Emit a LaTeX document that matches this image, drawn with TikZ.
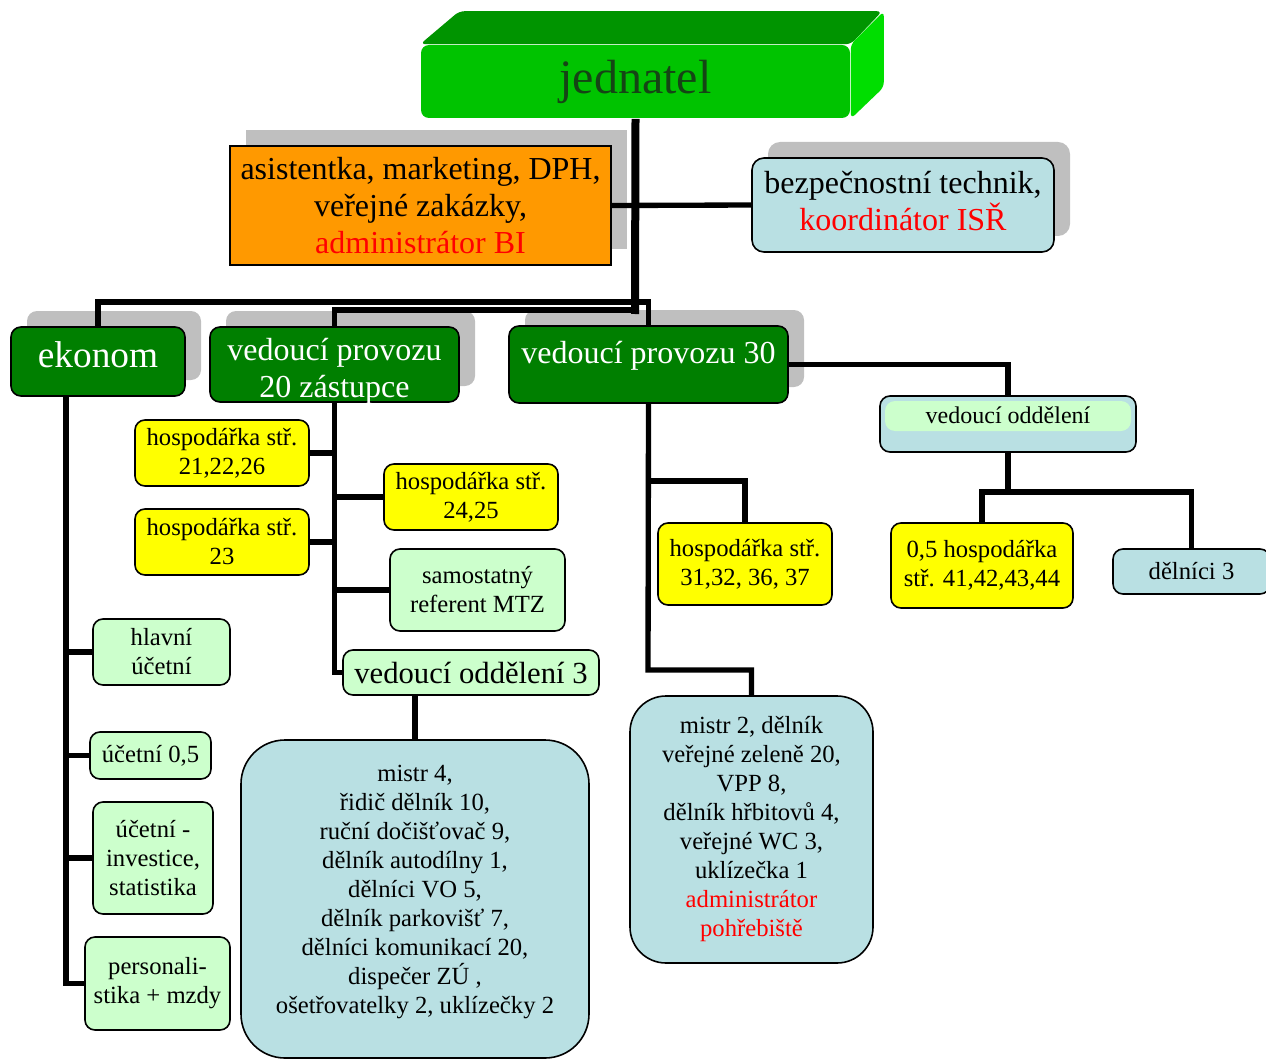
\documentclass[tikz,border=0pt]{standalone}
\usepackage{fontspec}
\setmainfont{Liberation Serif}
\usepackage{xcolor}
\usetikzlibrary{shadows}
\usetikzlibrary{backgrounds}
\definecolor{lblue}{HTML}{B9E0E3}
\definecolor{lgreen}{HTML}{CCFFCC}
\definecolor{dgreen}{HTML}{007F00}
\definecolor{orng}{HTML}{FF9900}
\definecolor{yel}{HTML}{FFFF00}
\definecolor{jedfront}{HTML}{00C300}
\definecolor{jedtop}{HTML}{009400}
\definecolor{jedside}{HTML}{00DE00}
\definecolor{jedtext}{HTML}{154515}
\tikzset{box/.style = {draw, line width=1.2pt, align=center, inner sep=2pt, rounded corners=7.5pt, font=\fontsize{18.5}{21.75}\selectfont}}
\tikzset{yellowbox/.style = {box, fill=yel}}
\tikzset{greenbox/.style = {box, fill=lgreen}}
\tikzset{bluebox/.style = {box, fill=lblue}}
\tikzset{grayshadow/.style = {drop shadow={shadow xshift=12pt, shadow yshift=12pt, fill=black, opacity=.25}}}
\tikzset{chiefbox/.style = {box, fill=dgreen, text=white, grayshadow, font=\fontsize{24}{27.75}\selectfont}}
\tikzset{link/.style = {line width=4pt}}
\tikzset{trunk/.style = {line width=6pt}}

\begin{document}
\begin{tikzpicture}[x=0.75pt,y=-0.75pt]
                    \useasboundingbox (0,0) rectangle (1266,1059);

                    % top of the tree
                    \node[box, fill=jedfront, draw=none, rounded corners=6pt, text=jedtext, font=\fontsize{36}{40}\selectfont,
                          minimum width=321.75pt, minimum height=54.75pt] (jed) at (635.5,81.5) {jednatel};
                    \fill[jedtop, rounded corners=4pt] (jed.north west) -- ++(39,-33) -- ++(423,0) -- (jed.north east) -- cycle;
                    \fill[jedside, rounded corners=4pt] (jed.north east) -- ++(33,-33) -- ++(0,76) -- (jed.south east) -- cycle;

                    \node[box, fill=orng, rounded corners=0pt, grayshadow, font=\fontsize{24}{27.75}\selectfont,
                          minimum width=285.75pt, minimum height=89.25pt] (asist) at (420.5,205.5)
                          {asistentka, marketing, DPH,\\ veřejné zakázky,\\ \textcolor{red}{administrátor BI}};
                    \node[bluebox, rounded corners=9pt, grayshadow, font=\fontsize{24}{27.75}\selectfont,
                          minimum width=226.5pt, minimum height=70.5pt] (bezp) at (903,205)
                          {bezpečnostní technik,\\ \textcolor{red}{koordinátor ISŘ}\rule[-6pt]{0pt}{6pt}};

                    % second level
                    \node[chiefbox, font=\fontsize{28}{32}\selectfont, minimum width=130.5pt, minimum height=51.75pt, text depth=10pt] (ekon) at (98,361.5) {ekonom};
                    \node[chiefbox, minimum width=186.75pt, minimum height=56.25pt, text height=50pt, text depth=0pt] (vp20) at (334.5,364.5) {vedoucí provozu\\ 20 zástupce};
                    \node[chiefbox, minimum width=209.25pt, minimum height=57.75pt, text height=16pt, text depth=18pt] (vp30) at (648.5,364.5) {vedoucí provozu 30};

                    % under vedoucí provozu 30
                    \node[bluebox, font=\fontsize{18}{21}\selectfont, minimum width=192pt, minimum height=42pt, text height=12pt, text depth=13pt,
                          path picture={\fill[lgreen] ([xshift=3.75pt,yshift=-3.75pt]path picture bounding box.north west)
                          rectangle ([xshift=-3.75pt,yshift=-5.25pt]path picture bounding box.east);}] (vodd) at (1008,424) {vedoucí oddělení};
                    \node[yellowbox, minimum width=136.5pt, minimum height=63.75pt] (h41) at (982,565.5) {0,5 hospodářka\\ stř. 41,42,43,44};
                    \node[bluebox, minimum width=117.75pt, minimum height=33.75pt] (del3) at (1191.5,571.5) {dělníci 3};
                    \node[yellowbox, minimum width=130.5pt, minimum height=61.5pt] (h31) at (745,564) {hospodářka stř.\\ 31,32, 36, 37};
                    \node[bluebox, rounded corners=27pt, minimum width=182.25pt, minimum height=200.25pt] (m2) at (751.5,829.5)
                          {mistr 2, dělník\\ veřejné zeleně 20,\\ VPP 8,\\ dělník hřbitovů 4,\\ veřejné WC 3,\\ uklízečka 1\\
                           \textcolor{red}{administrátor}\\ \textcolor{red}{pohřebiště}};

                    % under vedoucí provozu 20
                    \node[yellowbox, minimum width=130.5pt, minimum height=49.5pt] (h21) at (222,453) {hospodářka stř.\\ 21,22,26};
                    \node[yellowbox, minimum width=130.5pt, minimum height=49.5pt] (h24) at (471,497) {hospodářka stř.\\ 24,25};
                    \node[yellowbox, minimum width=130.5pt, minimum height=49.5pt] (h23) at (222,542) {hospodářka stř.\\ 23};
                    \node[greenbox, minimum width=131.25pt, minimum height=61.5pt] (samo) at (477.5,590) {samostatný\\ referent MTZ};
                    \node[greenbox, font=\fontsize{23}{26}\selectfont, minimum width=192pt, minimum height=33.75pt] (vo3) at (471,672.5) {vedoucí oddělení 3};
                    \node[bluebox, rounded corners=33pt, minimum width=261pt, minimum height=238.5pt] (m4) at (415,899)
                          {mistr 4,\\ řidič dělník 10,\\ ruční dočišťovač 9,\\ dělník autodílny 1,\\ dělníci VO 5,\\ dělník parkovišť 7,\\
                           dělníci komunikací 20,\\ dispečer ZÚ ,\\ ošetřovatelky 2, uklízečky 2\rule[-15pt]{0pt}{15pt}};

                    % under ekonom
                    \node[greenbox, minimum width=102.75pt, minimum height=49.5pt] (hu) at (161.5,652) {hlavní\\ účetní};
                    \node[greenbox, minimum width=90.75pt, minimum height=35.25pt] (u05) at (150.5,755.5) {účetní 0,5};
                    \node[greenbox, minimum width=90pt, minimum height=84pt] (ui) at (153,858) {účetní -\\ investice,\\ statistika};
                    \node[greenbox, minimum width=108.75pt, minimum height=69.75pt] (pm) at (157.5,983.5) {personali-\\ stika + mzdy};

                    \coordinate (hub) at (635,302);
                    \coordinate (hubb) at (635,310);
                    \coordinate (ektop) at (66,396);
                    \coordinate (h31knee) at (648,481);
                    \coordinate (m2knee) at (648,670);
                    \coordinate (voddknee) at (1008,492);

                    \begin{scope}[on background layer]
                    \draw[trunk] (jed.south) -- ([yshift=-3pt]hubb);
                    \draw[link] (asist.east) -- (bezp.west);
                    \draw[link] (hub) -| (ekon.north);
                    \draw[link] (hub) -| (vp30.north);
                    \draw[link] (hubb) -| (vp20.north);

                    \draw[link] (vp30.east) -| (vodd.north);
                    \draw[link] (vodd.south) -- (voddknee);
                    \draw[link] (h41.north) |- (voddknee) -| (del3.north);
                    \draw[link] (vp30.south) -- (m2knee) -| (m2.north);
                    \draw[link] (h31knee) -| (h31.north);

                    \draw[link] (vp20.south) |- (vo3.west);
                    \draw[link] (h21.east) -- (h21.east -| vp20.south);
                    \draw[link] (h24.west) -- (h24.west -| vp20.south);
                    \draw[link] (h23.east) -- (h23.east -| vp20.south);
                    \draw[link] (samo.west) -- (samo.west -| vp20.south);
                    \draw[link] (m4.north) -- (m4.north |- vo3.south);

                    \draw[link] (ektop) |- (pm.west);
                    \draw[link] (hu.west) -- (hu.west -| ektop);
                    \draw[link] (u05.west) -- (u05.west -| ektop);
                    \draw[link] (ui.west) -- (ui.west -| ektop);
                    \end{scope}
                \end{tikzpicture}
\end{document}
